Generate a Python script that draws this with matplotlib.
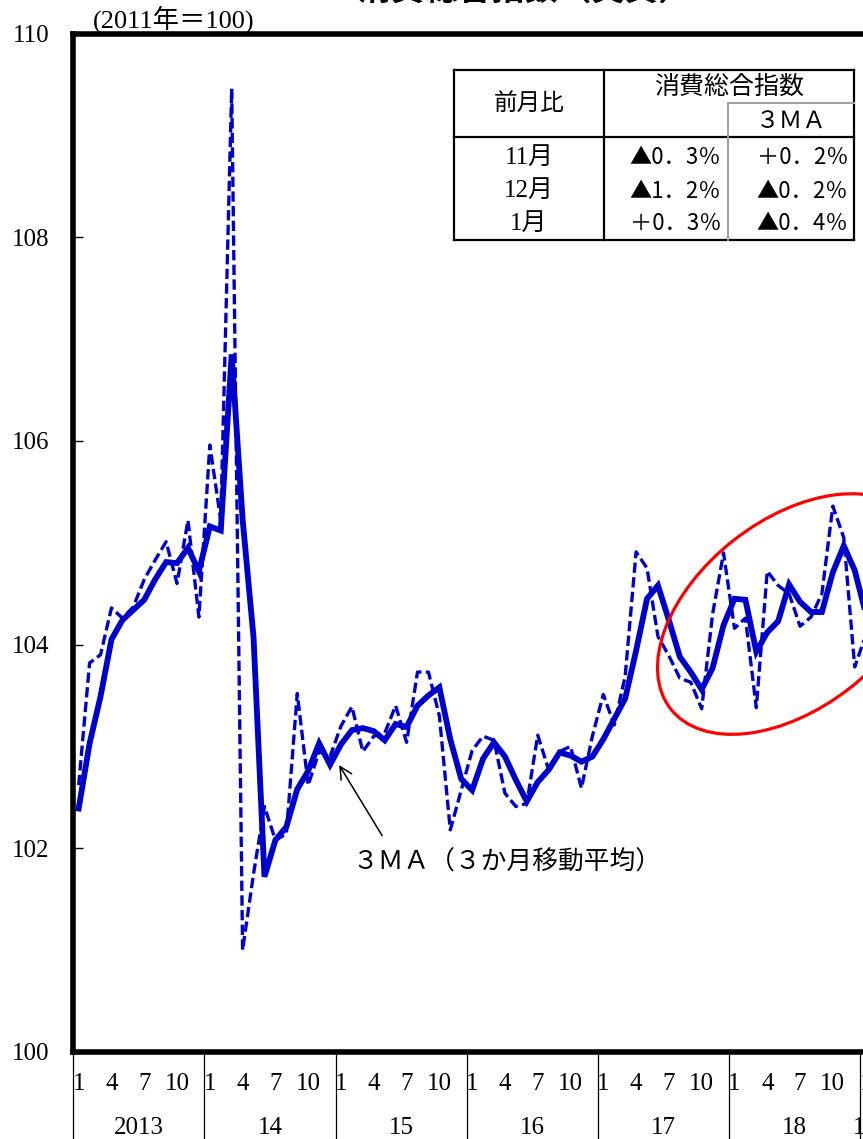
import matplotlib
matplotlib.use('Agg')
import matplotlib.pyplot as plt
import matplotlib.transforms as mtransforms
from matplotlib.lines import Line2D
from matplotlib.patches import Ellipse

plt.rcParams['font.family'] = ['Liberation Serif', 'Noto Sans CJK JP']
JP = ['Noto Sans CJK JP', 'DejaVu Sans']

W, H = 863, 1139
BLUE = '#0000cc'

# 消費総合指数（2011年=100）、2013年1月〜2019年1月
index_raw = [
    102.62, 103.82, 103.90, 104.36, 104.26, 104.37, 104.64, 104.83, 105.01, 104.60, 105.22, 104.27,
    105.96, 105.22, 109.46, 101.00, 101.75, 102.41, 102.08, 102.14, 103.52, 102.62, 102.95, 102.90,
    103.20, 103.39, 102.95, 103.10, 103.13, 103.40, 103.04, 103.73, 103.73, 103.30, 102.18, 102.57,
    102.96, 103.10, 103.06, 102.54, 102.41, 102.44, 103.11, 102.77, 102.95, 103.00, 102.59, 103.10,
    103.51, 103.21, 103.69, 104.91, 104.75, 104.08, 103.89, 103.67, 103.63, 103.37, 104.30, 104.90,
    104.16, 104.26, 103.38, 104.72, 104.58, 104.50, 104.18, 104.27, 104.50, 105.36, 105.05, 103.78,
    104.09,
]
# 後方3か月移動平均
index_3ma = [
    102.39, 103.03, 103.49, 104.05, 104.24, 104.34, 104.44, 104.64, 104.81, 104.80, 104.95, 104.72,
    105.16, 105.12, 106.85, 105.23, 104.07, 101.72, 102.08, 102.21, 102.58, 102.76, 103.03, 102.82,
    103.02, 103.16, 103.18, 103.15, 103.06, 103.22, 103.19, 103.40, 103.50, 103.58, 103.07, 102.68,
    102.57, 102.88, 103.04, 102.90, 102.67, 102.46, 102.65, 102.77, 102.94, 102.91, 102.85, 102.90,
    103.07, 103.27, 103.47, 103.94, 104.45, 104.58, 104.24, 103.88, 103.73, 103.56, 103.77, 104.19,
    104.45, 104.44, 103.93, 104.12, 104.23, 104.59, 104.42, 104.32, 104.32, 104.71, 104.97, 104.73,
    104.31,
]
year_labels = ['2013', '14', '15', '16', '17', '18', '19']
month_ticks = [1, 4, 7, 10]

table_months = ['11月', '12月', '1月']
table_raw = ['▲0．3％', '▲1．2％', '＋0．3％']
table_3ma = ['＋0．2％', '▲0．2％', '▲0．4％']


def fx(x):
    return x / W


def fy(y):
    return 1 - y / H


n = len(index_raw)
months = list(range(n))

fig = plt.figure(figsize=(W / 100, H / 100), dpi=100)
ax = fig.add_axes([fx(73.2), fy(1051.9), (n * 10.93) / W, (1051.9 - 33.6) / H])

ax.plot(months, index_raw, color=BLUE, lw=2.4, ls=(0, (3.1, 1.3)), zorder=3)
ax.plot(months, index_3ma, color=BLUE, lw=4.2, solid_joinstyle='miter', zorder=4)

ax.set_xlim(-0.5, n - 0.5)
ax.set_ylim(100, 110)
ax.set_yticks(range(100, 111, 2))
ax.tick_params(axis='y', direction='in', length=7, width=1, labelsize=18, pad=17)

tick_pos = [i for i in months if i % 12 + 1 in month_ticks]
ax.set_xticks(tick_pos, [str(i % 12 + 1) for i in tick_pos])
ax.tick_params(axis='x', length=0, labelsize=18, pad=15)

for side in ['left', 'top', 'bottom']:
    ax.spines[side].set_linewidth(4)
ax.spines['right'].set_visible(False)

# 年の区切り線と年ラベル
trans = mtransforms.blended_transform_factory(ax.transData, ax.transAxes)
for k, label in enumerate(year_labels):
    start = 12 * k - 0.5
    ax.plot([start, start], [0, -0.1], color='black', lw=0.9, transform=trans, clip_on=False)
    idx = [i for i in months if i // 12 == k]
    ax.text(sum(idx) / len(idx), -0.0745, label, ha='center', va='center',
            fontsize=18, transform=trans)

# 3MAの注記
ax.annotate('', xy=(23.7, 102.84), xytext=(27.9, 102.1),
            arrowprops=dict(arrowstyle='->', color='black', lw=1.1, mutation_scale=22))
ax.text(25.0, 101.86, '３ＭＡ（３か月移動平均）', ha='left', va='center',
        fontsize=18.5, family=JP)

# 直近の動きを囲む楕円
ell = Ellipse((0, 0), width=3.08, height=1.88, angle=38,
              transform=fig.dpi_scale_trans + mtransforms.ScaledTranslation(65.26, 104.3, ax.transData),
              fill=False, edgecolor='#ff0000', lw=2.3, zorder=5, clip_on=False)
ax.add_artist(ell)

fig.text(fx(93), fy(19), '(2011年＝100)', ha='left', va='center', fontsize=19)
fig.text(fx(492), fy(0), '３．消費総合指数（実質）', ha='center', va='baseline',
         fontsize=24, fontweight='bold', family=JP)

# 前月比の表
tl, tr, tt, tb = 454, 854, 70, 240
c1, c2 = 604, 728
r1, r2 = 102.5, 136.7


def hline(y, x0, x1, color='black', lw=1.6):
    fig.add_artist(Line2D([fx(x0), fx(x1)], [fy(y), fy(y)], color=color, lw=lw))


def vline(x, y0, y1, color='black', lw=1.6):
    fig.add_artist(Line2D([fx(x), fx(x)], [fy(y0), fy(y1)], color=color, lw=lw))


fig.add_artist(plt.Rectangle((fx(tl), fy(tb)), fx(tr - tl), (tb - tt) / H,
                             facecolor='white', edgecolor='none', zorder=0))
hline(tt, tl, tr)
hline(tb, tl, tr)
hline(r2, tl, tr)
vline(tl, tt, tb)
vline(tr, tt, tb)
vline(c1, tt, tb)
hline(r1, c2, tr, color='#a0a0a0', lw=1.4)
vline(c2, r1, tb, color='#a0a0a0', lw=1.4)

fig.text(fx((tl + c1) / 2), fy((tt + r2) / 2), '前月比', ha='center', va='center',
         fontsize=17, family=JP)
fig.text(fx((c1 + tr) / 2), fy(87), '消費総合指数', ha='center', va='center',
         fontsize=18, family=JP)
fig.text(fx((c2 + tr) / 2), fy(121), '３ＭＡ', ha='center', va='center',
         fontsize=17, family=JP)
for row, (m, a, b) in enumerate(zip(table_months, table_raw, table_3ma)):
    yy = fy(158 + 33 * row)
    fig.text(fx((tl + c1) / 2), yy, m, ha='center', va='center', fontsize=18)
    fig.text(fx(c2 - 7), yy, a, ha='right', va='center', fontsize=16, family=JP)
    fig.text(fx(tr - 6), yy, b, ha='right', va='center', fontsize=16, family=JP)

fig.savefig('out.png', dpi=100)
